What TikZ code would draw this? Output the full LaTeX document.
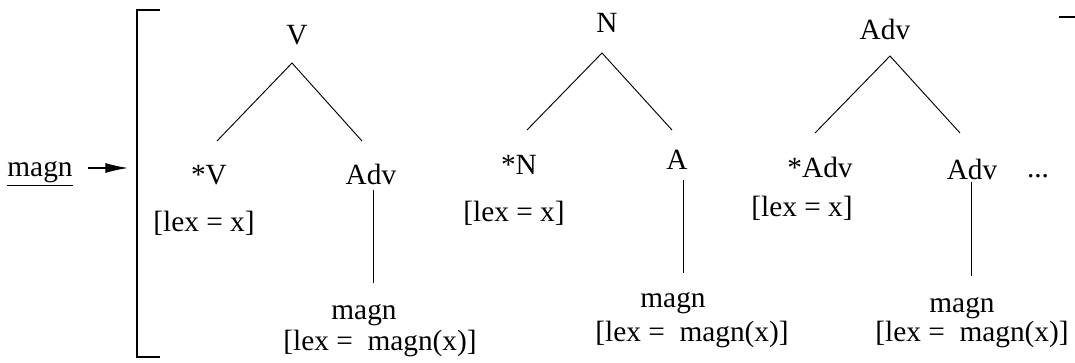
\documentclass[tikz,border=0pt]{standalone}
\usepackage{fontspec}
\setmainfont{Liberation Serif}
\usetikzlibrary{arrows.meta}

\begin{document}
\begin{tikzpicture}[x=0.75pt, y=-0.75pt,
  lbl/.style={font=\fontsize{22}{26}\selectfont, inner sep=0pt, anchor=base},
  branch/.style={line width=0.7pt}]

  \useasboundingbox (0,0) rectangle (1075,363);

  %% input word, arrow and bracket
  \node[lbl] (magn) at (40,177) {\underline{magn}};
  \coordinate (arrtip) at (128,168);
  \draw[line width=0.8pt, -{Latex[length=17pt,width=7.5pt]}, shorten <=11pt]
    (magn.east |- arrtip) -- (arrtip);
  \draw[line width=1.1pt] (160,10) -- (137,10) -- (137,357) -- (160,357);
  \draw[line width=1.1pt] (1059,17) -- (1075,17);

  %% tree 1 (V)
  \node[lbl] (topV) at (297,45) {V};
  \node[lbl] (headV) at (209,185) {*V};
  \node[lbl] (depV) at (371,185) {Adv};
  \node[lbl] (lexV) at (204,232) {[lex = x]};
  \node[lbl] (magnV) at (364,320) {magn};
  \node[lbl] (valV) at (380,351) {[lex = \ magn(x)]};
  \coordinate (apexV) at (292,63);
  \coordinate (leftV) at (217,141);
  \coordinate (rightV) at (362,141);
  \coordinate (upV) at (373,190);
  \coordinate (downV) at (373,283);
  \draw[branch] (leftV) -- (apexV) -- (rightV);
  \draw[branch] (upV) -- (downV);

  %% tree 2 (N)
  \node[lbl] (topN) at (607,33) {N};
  \node[lbl] (headN) at (519,175) {*N};
  \node[lbl] (depN) at (677,170) {A};
  \node[lbl] (lexN) at (514,222) {[lex = x]};
  \node[lbl] (magnN) at (673,308) {magn};
  \node[lbl] (valN) at (692,342) {[lex = \ magn(x)]};
  \coordinate (apexN) at (602,53);
  \coordinate (leftN) at (527,130);
  \coordinate (rightN) at (672,130);
  \coordinate (upN) at (683,180);
  \coordinate (downN) at (683,273);
  \draw[branch] (leftN) -- (apexN) -- (rightN);
  \draw[branch] (upN) -- (downN);

  %% tree 3 (Adv)
  \node[lbl] (topA) at (885,40) {Adv};
  \node[lbl] (headA) at (820,178) {*Adv};
  \node[lbl] (depA) at (972,180) {Adv};
  \node[lbl] (dots) at (1038,178) {...};
  \node[lbl] (lexA) at (802,217) {[lex = x]};
  \node[lbl] (magnA) at (962,313) {magn};
  \node[lbl] (valA) at (972,342) {[lex = \ magn(x)]};
  \coordinate (apexA) at (890,56);
  \coordinate (leftA) at (815,133);
  \coordinate (rightA) at (960,133);
  \coordinate (upA) at (971,182);
  \coordinate (downA) at (971,276);
  \draw[branch] (leftA) -- (apexA) -- (rightA);
  \draw[branch] (upA) -- (downA);

\end{tikzpicture}
\end{document}
